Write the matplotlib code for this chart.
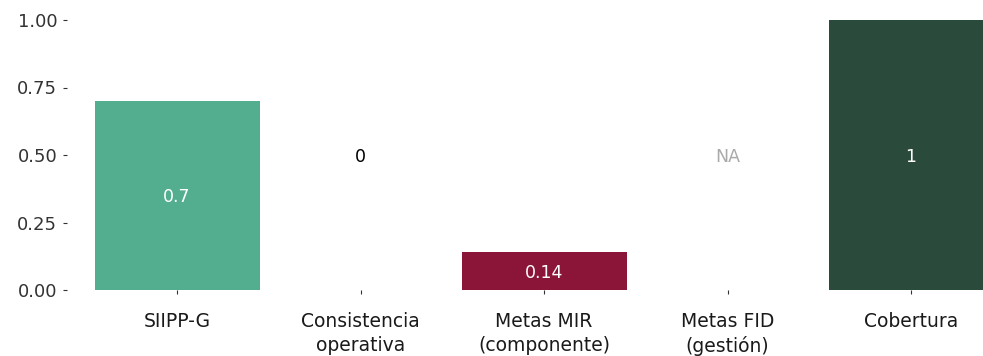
import matplotlib
matplotlib.use("Agg")
import matplotlib.pyplot as plt
import numpy as np

categories = ["SIIPP-G", "Consistencia\noperativa", "Metas MIR\n(componente)", "Metas FID\n(gestión)", "Cobertura"]
values = [0.7, 0.0, 0.14, None, 1.0]
labels = ["0.7", "0", "0.14", "NA", "1"]
bar_colors = ["#52AE8E", "#FFFFFF", "#8B1538", "#FFFFFF", "#2A4B3B"]
label_colors = ["white", "black", "white", "#AAAAAA", "white"]
label_pos = [0.35, 0.5, 0.07, 0.5, 0.5]
yticks = [0.0, 0.25, 0.5, 0.75, 1.0]
ytick_labels = ["0.00", "0.25", "0.50", "0.75", "1.00"]

plt.rcParams['font.family'] = ['DejaVu Sans']

W, H = 983, 356
fig = plt.figure(figsize=(W/100, H/100), dpi=100)
left_px, right_px = 67, 983
bottom_px, top_px = 290, 20
ax = fig.add_axes([left_px/W, 1 - bottom_px/H, (right_px-left_px)/W, (bottom_px-top_px)/H])

x = np.arange(len(categories))
vals = [v if v is not None else 0 for v in values]
ax.bar(x, vals, width=0.9, color=bar_colors)
for i, (lab, c, p) in enumerate(zip(labels, label_colors, label_pos)):
    ax.text(x[i], p, lab, ha='center', va='center_baseline', color=c, fontsize=12.5)

cat_w = 183.5
ax.set_xlim(-0.6, -0.6 + (right_px-left_px)/cat_w)
ax.set_ylim(0, 1)
ax.set_xticks(x)
ax.set_xticklabels(categories, fontsize=13.5, color='#1a1a1a', linespacing=1.3)
ax.set_yticks(yticks)
ax.set_yticklabels(ytick_labels, fontsize=13, color='#333333')
ax.tick_params(axis='both', length=3, width=0.8, color='#333333', pad=4)
ax.tick_params(axis='x', pad=13)
for s in ax.spines.values():
    s.set_visible(False)
ax.set_facecolor('white')

fig.savefig("out.png", dpi=100, facecolor='white')
